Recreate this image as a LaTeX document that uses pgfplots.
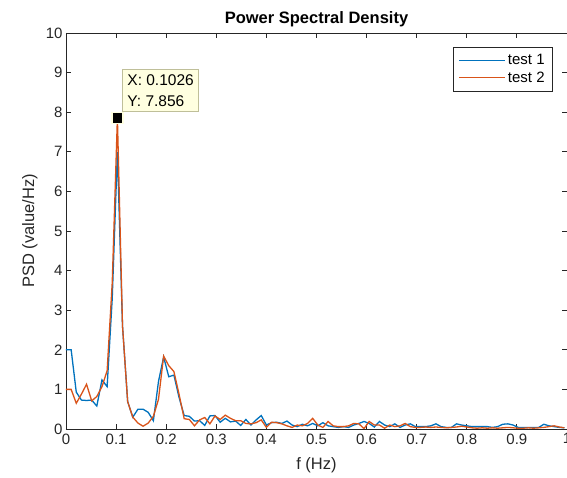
\documentclass[border=0pt]{standalone}
\usepackage{pgfplots}
\pgfplotsset{compat=1.18}
\usepackage{pgfplotstable}
\usepackage{fontspec}
\setmainfont{Liberation Sans}
\definecolor{mblue}{rgb}{0,0.447,0.741}
\definecolor{morange}{rgb}{0.85,0.325,0.098}
\definecolor{axgray}{rgb}{0.15,0.15,0.15}
\definecolor{tipfill}{rgb}{1,1,0.88}
\definecolor{tipedge}{rgb}{0.75,0.75,0.6}
\pgfplotstableread{
f a b
0.0000 2.00 1.00
0.0103 2.00 1.00
0.0205 0.93 0.65
0.0308 0.73 0.88
0.0410 0.72 1.13
0.0513 0.73 0.71
0.0615 0.58 0.82
0.0718 1.24 1.07
0.0821 1.07 1.47
0.0923 3.30 3.70
0.1026 7.00 7.856
0.1128 2.60 2.60
0.1231 0.69 0.69
0.1333 0.30 0.30
0.1436 0.50 0.15
0.1538 0.50 0.07
0.1641 0.42 0.15
0.1744 0.21 0.32
0.1846 1.20 0.75
0.1949 1.82 1.84
0.2051 1.32 1.60
0.2154 1.36 1.45
0.2256 0.80 0.88
0.2359 0.34 0.26
0.2462 0.32 0.24
0.2564 0.20 0.08
0.2667 0.21 0.23
0.2769 0.09 0.29
0.2872 0.33 0.13
0.2974 0.34 0.33
0.3077 0.17 0.24
0.3179 0.27 0.35
0.3282 0.18 0.27
0.3385 0.20 0.21
0.3487 0.09 0.21
0.3590 0.24 0.14
0.3692 0.10 0.13
0.3795 0.23 0.16
0.3897 0.34 0.23
0.4000 0.10 0.04
0.4103 0.16 0.17
0.4205 0.17 0.16
0.4308 0.14 0.13
0.4410 0.20 0.08
0.4513 0.10 0.04
0.4615 0.06 0.10
0.4718 0.12 0.08
0.4821 0.08 0.14
0.4923 0.14 0.27
0.5026 0.08 0.10
0.5128 0.16 0.04
0.5231 0.08 0.19
0.5333 0.06 0.08
0.5436 0.04 0.06
0.5538 0.06 0.06
0.5641 0.04 0.08
0.5744 0.10 0.14
0.5846 0.14 0.13
0.5949 0.19 0.01
0.6051 0.14 0.19
0.6154 0.05 0.10
0.6256 0.19 0.10
0.6359 0.10 0.02
0.6462 0.06 0.10
0.6564 0.13 0.06
0.6667 0.04 0.08
0.6769 0.10 0.14
0.6872 0.13 0.06
0.6974 0.06 0.04
0.7077 0.06 0.04
0.7179 0.06 0.05
0.7282 0.08 0.04
0.7385 0.13 0.05
0.7487 0.06 0.04
0.7590 0.04 0.03
0.7692 0.04 0.04
0.7795 0.13 0.05
0.7897 0.10 0.07
0.8000 0.08 0.05
0.8103 0.06 0.03
0.8205 0.06 0.02
0.8308 0.06 0.03
0.8410 0.06 0.02
0.8513 0.04 0.03
0.8615 0.06 0.02
0.8718 0.12 0.03
0.8821 0.13 0.04
0.8923 0.10 0.03
0.9026 0.04 0.02
0.9128 0.04 0.02
0.9231 0.04 0.03
0.9333 0.04 0.02
0.9436 0.04 0.03
0.9538 0.12 0.04
0.9641 0.08 0.06
0.9744 0.06 0.08
0.9846 0.04 0.05
0.9949 0.03 0.03
}\psd
\begin{document}
\begin{tikzpicture}[x=1pt,y=1pt]
\begin{axis}[
  at={(0,0)}, anchor=south west,
  scale only axis, width=501pt, height=396pt,
  xmin=0, xmax=1, ymin=0, ymax=10,
  xtick={0,0.1,0.2,0.3,0.4,0.5,0.6,0.7,0.8,0.9,1},
  xticklabels={0,0.1,0.2,0.3,0.4,0.5,0.6,0.7,0.8,0.9,1},
  ytick={0,1,2,3,4,5,6,7,8,9,10},
  /pgf/number format/assume math mode=true,
  tick align=inside, xtick pos=both, ytick pos=both,
  major tick length=5pt,
  axis line style={color=axgray, line width=0.9pt},
  tick style={color=axgray, line width=0.9pt},
  tick label style={font=\fontsize{15}{18}\selectfont, color=axgray},
  xticklabel style={yshift=-1pt},
  title={\bfseries Power Spectral Density},
  title style={font=\fontsize{16.5}{20}\selectfont, at={(axis description cs:0.5,1.038)}, anchor=center, yshift=-7pt},
  xlabel={f (Hz)},
  ylabel={PSD (value/Hz)},
  label style={font=\fontsize{16.5}{20}\selectfont, color=axgray},
  xlabel style={at={(axis description cs:0.5,-0.091)}, anchor=center},
  ylabel style={at={(axis description cs:-0.072,0.5)}, anchor=center},
  legend style={at={(axis description cs:0.972,0.965)}, anchor=north east,
    draw=axgray, line width=0.6pt, fill=white, font=\fontsize{15}{18}\selectfont,
    row sep=2pt, inner xsep=6pt, inner ysep=5pt},
  legend cell align=left,
  legend image code/.code={\draw[#1, line width=1pt] (0pt,0pt) -- (46pt,0pt);},
]
\addplot[draw=mblue, line width=1.3pt] table[x=f, y=a] {\psd};
\addlegendentry{test 1}
\addplot[draw=morange, line width=1.3pt] table[x=f, y=b] {\psd};
\addlegendentry{test 2}
\addplot[only marks, mark=square*, mark size=5.5pt, mark options={fill=black, draw=tipfill, line width=1.2pt}, forget plot] coordinates {(0.1026,7.856)};
\node[anchor=south west, fill=tipfill, draw=tipedge, line width=0.8pt, align=left,
  font=\fontsize{15.5}{21}\selectfont, inner xsep=5pt, inner ysep=5pt]
  at (axis cs:0.1118,8.0) {X: 0.1026\\Y: 7.856};
\end{axis}
\pgfresetboundingbox
\path (-66pt,-49pt) rectangle (501pt,429pt);
\end{tikzpicture}
\end{document}
